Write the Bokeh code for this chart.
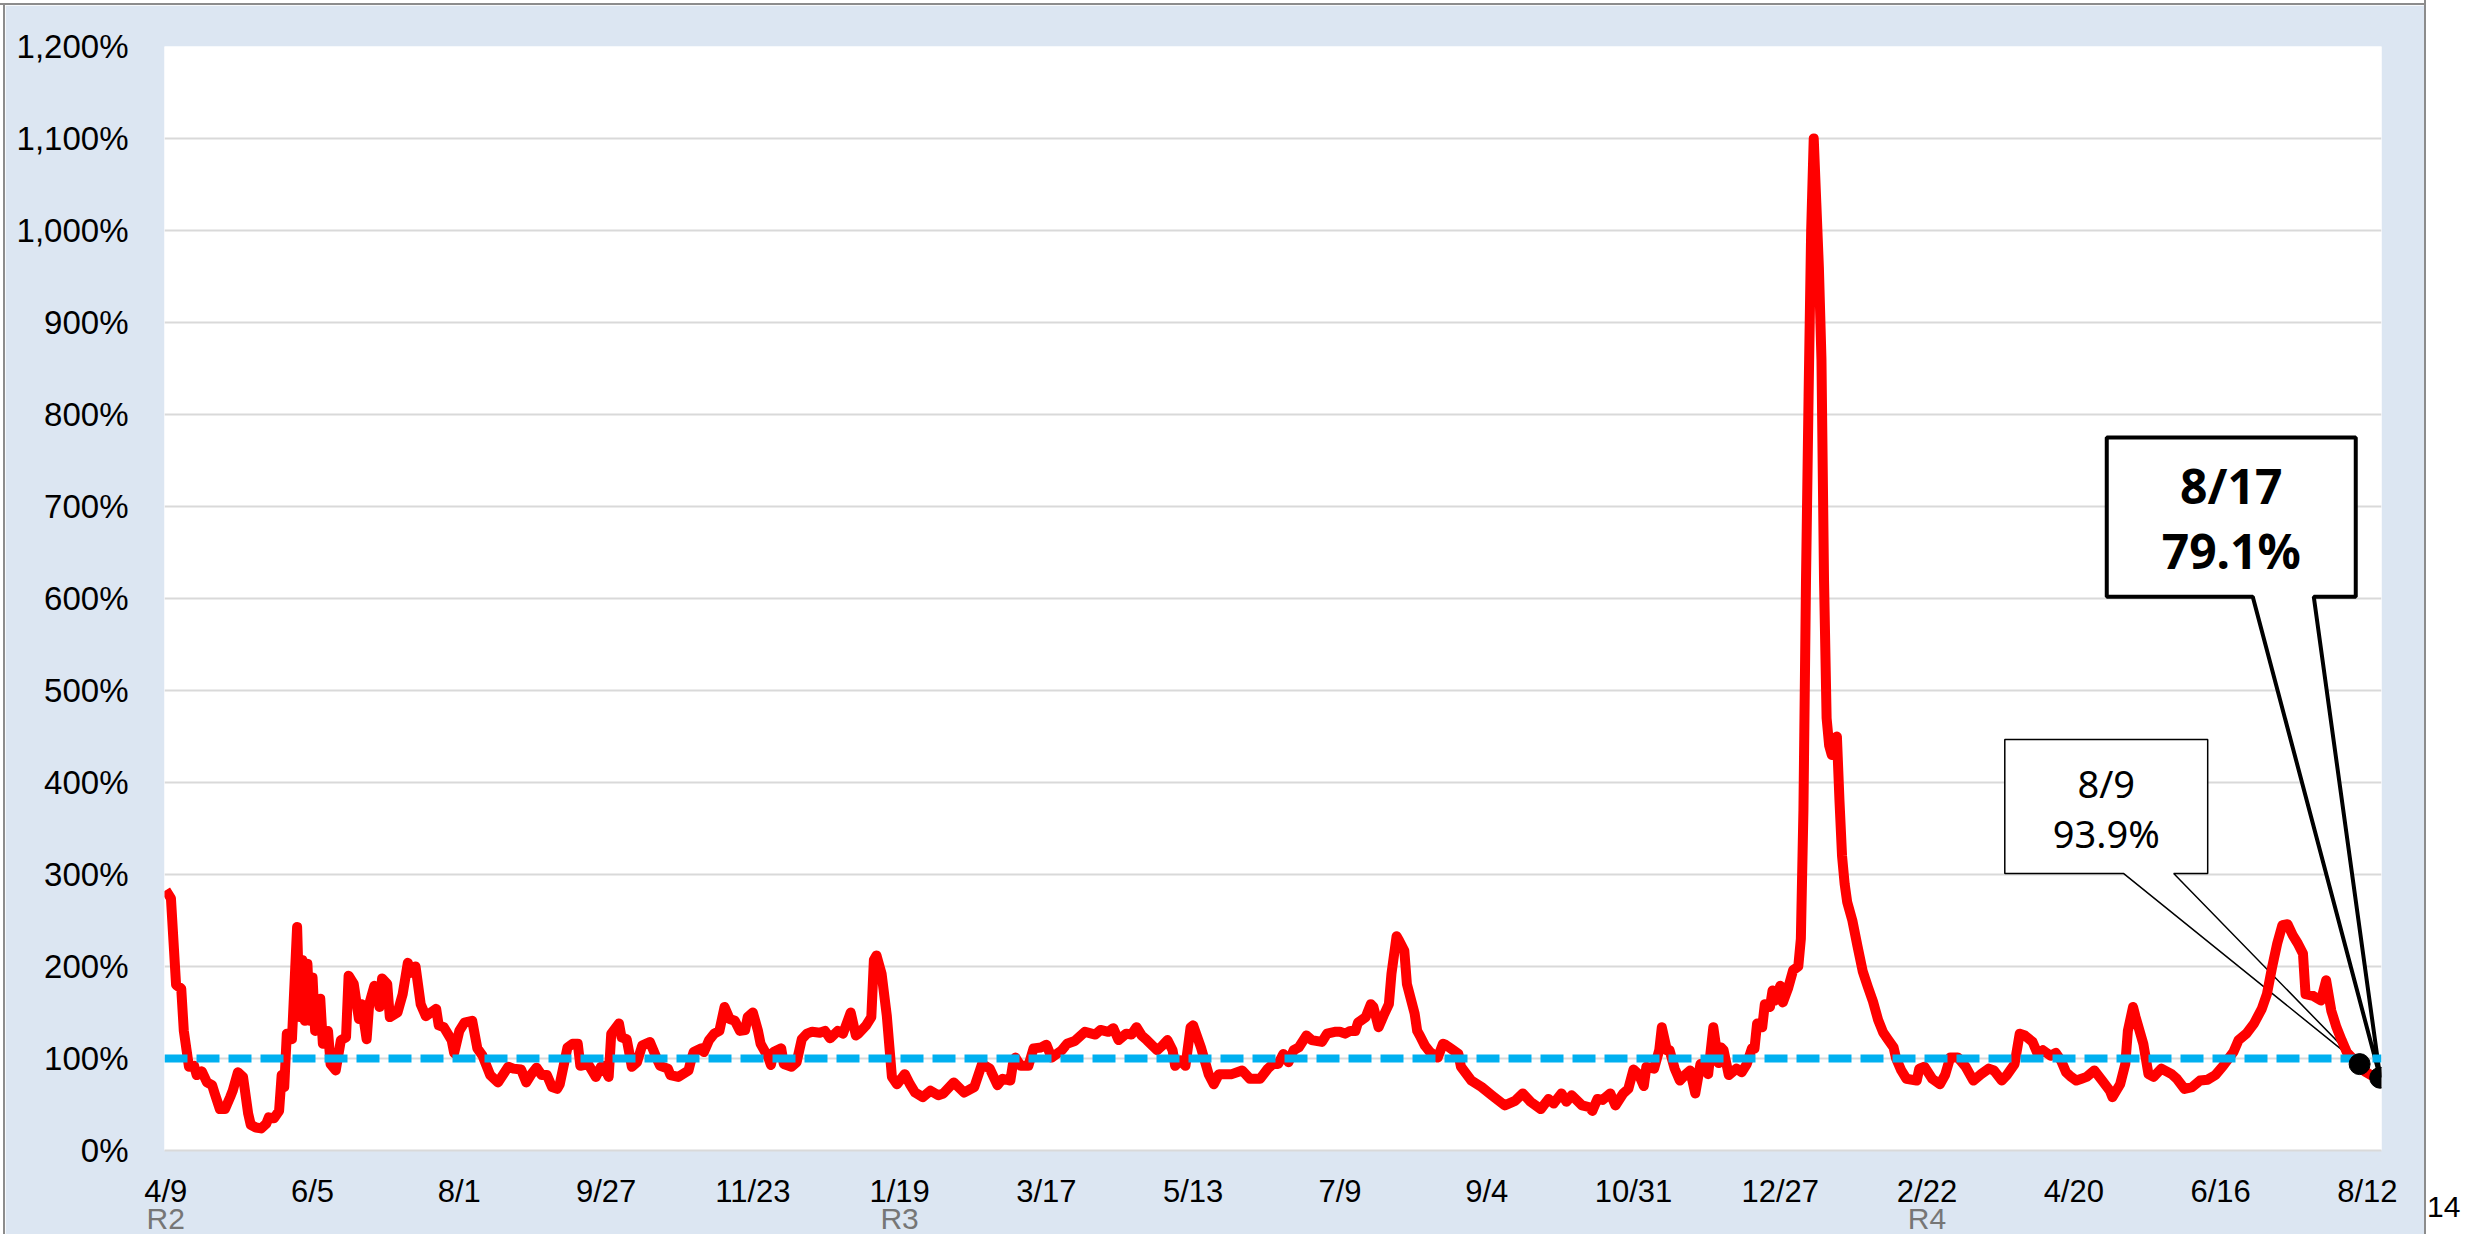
from datetime import datetime, timedelta

from bokeh.core.properties import value
from bokeh.embed import file_html
from bokeh.layouts import column, row
from bokeh.models import DatetimeAxis, Div, FixedTicker, Range1d
from bokeh.plotting import figure
from bokeh.resources import INLINE

# ---------------- data ----------------
START_DATE = datetime(2020, 4, 9)

day_offsets = [
    0, 2, 4, 6, 7, 9, 11, 12, 14, 16, 18, 19, 21, 23, 25, 26, 28, 30, 32, 33, 35, 37, 39, 40, 42, 44,
    45, 46, 47, 49, 51, 52, 53, 54, 55, 56, 57, 58, 60, 61, 63, 64, 66, 68, 70, 71, 73, 75, 76, 78,
    79, 81, 83, 84, 86, 87, 90, 92, 94, 95, 97, 99, 101, 105, 106, 108, 111, 112, 114, 116, 119,
    121, 123, 126, 129, 133, 135, 138, 140, 142, 144, 146, 148, 150, 152, 153, 156, 158, 160, 161,
    164, 167, 169, 170, 172, 173, 176, 177, 179, 181, 183, 185, 188, 191, 192, 195, 196, 199, 203,
    204, 205, 208, 209, 211, 213, 215, 217, 219, 221, 223, 225, 226, 228, 230, 231, 234, 235, 236,
    239, 240, 243, 245, 247, 249, 251, 254, 256, 258, 261, 263, 266, 268, 269, 272, 274, 275, 276,
    278, 280, 282, 284, 287, 289, 291, 294, 297, 300, 302, 306, 310, 314, 317, 320, 323, 325, 328,
    329, 330, 332, 335, 337, 340, 342, 344, 348, 350, 353, 357, 361, 363, 366, 368, 370, 373, 375,
    377, 379, 381, 385, 387, 389, 391, 392, 394, 396, 398, 399, 402, 405, 407, 409, 414, 418, 421,
    425, 428, 430, 432, 434, 436, 438, 440, 443, 445, 449, 451, 454, 456, 458, 460, 462, 463, 466,
    468, 469, 471, 473, 475, 476, 478, 479, 481, 482, 485, 486, 487, 489, 491, 494, 496, 497, 499,
    502, 503, 507, 511, 515, 520, 524, 527, 530, 534, 537, 539, 542, 544, 546, 550, 553, 554, 556,
    558, 561, 563, 566, 568, 570, 572, 574, 575, 578, 580, 581, 583, 584, 586, 588, 590, 592, 594,
    596, 599, 601, 603, 604, 605, 607, 610, 612, 614, 616, 617, 618, 620, 621, 623, 624, 625, 627,
    628, 630, 632, 634, 635, 636, 637, 638, 639, 640, 641, 642, 643, 644, 645, 646, 647, 648, 649,
    650, 651, 652, 653, 655, 657, 659, 661, 663, 665, 667, 669, 671, 672, 674, 676, 680, 681, 683,
    686, 689, 691, 693, 696, 699, 702, 705, 708, 710, 713, 715, 718, 720, 722, 725, 727, 729, 732,
    734, 736, 738, 740, 742, 744, 746, 749, 752, 755, 756, 759, 761, 762, 764, 765, 768, 770, 772,
    775, 779, 781, 784, 787, 790, 793, 796, 799, 803, 805, 808, 811, 814, 816, 818, 820, 822, 824,
    826, 828, 830, 831, 834, 837, 839, 841, 843, 845, 847, 850, 852, 854, 857, 860,
]

ratio_pct = [
    283, 274, 180, 176, 130, 91, 92, 82, 86, 74, 71, 62, 45, 45, 58, 65, 85, 80, 40, 28, 25, 24, 29, 36, 35, 43,
    82, 69, 127, 121, 243, 145, 207, 141, 203, 141, 188, 130, 165, 116, 130, 94, 87, 120, 123, 190, 181, 143, 159, 121,
    159, 179, 156, 187, 181, 145, 150, 170, 204, 193, 200, 159, 146, 154, 136, 134, 120, 106, 130, 139, 141,
    111, 103, 82, 74, 91, 89, 88, 74, 83, 90, 82, 82, 69, 67, 72, 112, 116, 116, 92,
    94, 80, 91, 92, 80, 127, 138, 123, 121, 91, 96, 114, 118, 98, 92, 89, 82, 80, 87,
    98, 107, 111, 107, 120, 127, 130, 156, 143, 141, 130, 131, 145, 150, 130, 116, 101, 93, 107,
    111, 94, 91, 96, 121, 127, 129, 128, 130, 122, 130, 127, 150, 125, 127, 136, 145, 207, 212,
    192, 147, 80, 72, 83, 72, 63, 58, 65, 60, 62, 74, 63, 69, 94, 89, 71, 78, 76,
    94, 101, 92, 92, 111, 112, 115, 101, 109, 116, 119, 129, 126, 131, 129, 133, 120, 127, 126,
    134, 125, 120, 109, 114, 120, 109, 92, 98, 92, 134, 136, 112, 83, 72, 83, 83, 87, 78,
    78, 89, 94, 94, 105, 96, 109, 112, 125, 120, 118, 127, 129, 129, 127, 130, 130, 139, 145,
    159, 156, 134, 147, 159, 192, 233, 228, 217, 181, 149, 130, 125, 114, 107, 101, 116, 115, 111,
    105, 91, 76, 69, 60, 49, 54, 62, 53, 45, 56, 51, 62, 53, 60, 49, 47, 43, 56,
    55, 62, 49, 62, 67, 88, 83, 70, 91, 89, 109, 134, 109, 109, 89, 76, 82, 87, 62,
    94, 83, 134, 95, 112, 109, 82, 89, 85, 94, 111, 111, 138, 134, 159, 156, 174, 163, 179,
    161, 176, 196, 200, 230, 370, 620, 820, 1000, 1100, 1030, 960, 860, 620, 470, 440, 430, 445, 450,
    380, 320, 290, 270, 250, 222, 195, 178, 162, 142, 128, 120, 112, 100, 87, 78, 76, 89, 91,
    78, 72, 82, 101, 101, 91, 76, 83, 89, 87, 76, 82, 94, 127, 125, 118, 105, 109, 103,
    106, 98, 85, 80, 76, 78, 80, 87, 76, 65, 58, 72, 94, 130, 156, 145, 116, 83, 80,
    89, 83, 78, 67, 69, 76, 77, 82, 92, 107, 120, 127, 138, 154, 170, 199, 225, 245, 246,
    234, 225, 214, 170, 168, 163, 185, 152, 134, 120, 107, 98, 93.9, 86, 81, 79.1,
]
assert len(day_offsets) == len(ratio_pct)

tick_dates = [
    "2020-04-09", "2020-06-05", "2020-08-01", "2020-09-27", "2020-11-23", "2021-01-19",
    "2021-03-17", "2021-05-13", "2021-07-09", "2021-09-04", "2021-10-31", "2021-12-27",
    "2022-02-22", "2022-04-20", "2022-06-16", "2022-08-12",
]
tick_labels = ["4/9", "6/5", "8/1", "9/27", "11/23", "1/19", "3/17", "5/13", "7/9", "9/4",
               "10/31", "12/27", "2/22", "4/20", "6/16", "8/12"]

era_dates = ["2020-04-09", "2021-01-19", "2022-02-22"]
era_labels = ["R2", "R3", "R4"]

y_ticks = [0, 100, 200, 300, 400, 500, 600, 700, 800, 900, 1000, 1100, 1200]
reference_level = 100          # 100% line
highlight_offsets = [852, 860]  # 8/9 and 8/17 call-outs
page_number = "14"

# ---------------- helpers ----------------
EPOCH = datetime(1970, 1, 1)


def to_ms(dt):
    return (dt - EPOCH).total_seconds() * 1000.0


dates = [START_DATE + timedelta(days=d) for d in day_offsets]
tick_ms = [to_ms(datetime.fromisoformat(s)) for s in tick_dates]
era_ms = [to_ms(datetime.fromisoformat(s)) for s in era_dates]

x_start = dates[0] - timedelta(hours=12)
x_end = dates[-1] + timedelta(hours=12)

# ---------------- figure ----------------
BG = "#dce6f2"
FRAME_GREY = "#8c8c8c"
p = figure(
    frame_width=2217, frame_height=1104,
    x_axis_type="datetime",
    x_range=Range1d(x_start, x_end),
    y_range=Range1d(0, 1200),
    output_backend="svg", toolbar_location=None,
    min_border_left=159, min_border_right=43, min_border_top=41, min_border_bottom=84,
    background_fill_color="white", border_fill_color=BG, outline_line_color=None,
)

# x axis (dates)
p.xaxis.ticker = FixedTicker(ticks=tick_ms)
p.xaxis.major_label_overrides = {t: lbl for t, lbl in zip(tick_ms, tick_labels)}
p.xaxis.major_label_text_font = "Liberation Sans"
p.xaxis.major_label_text_font_size = "31px"
p.xaxis.major_label_text_color = "black"
p.xaxis.major_label_standoff = 23
p.xaxis.axis_line_color = "#d9d9d9"
p.xaxis.axis_line_width = 2
p.xaxis.major_tick_line_color = None
p.xaxis.minor_tick_line_color = None
p.xaxis.major_tick_out = 0
p.xaxis.minor_tick_out = 0

# second row of x labels: era (R2/R3/R4)
era_axis = DatetimeAxis(
    ticker=FixedTicker(ticks=era_ms),
    major_label_overrides={t: lbl for t, lbl in zip(era_ms, era_labels)},
    major_label_text_font="Liberation Sans",
    major_label_text_font_size="30px",
    major_label_text_color="#767676",
    major_label_standoff=-10,
    axis_line_color=None,
    major_tick_line_color=None, minor_tick_line_color=None,
    major_tick_out=0, minor_tick_out=0, major_tick_in=0, minor_tick_in=0,
)
p.add_layout(era_axis, "below")

# y axis
p.yaxis.ticker = FixedTicker(ticks=y_ticks)
p.yaxis.major_label_overrides = {v: f"{v:,}%" for v in y_ticks}
p.yaxis.major_label_text_font = "Liberation Sans"
p.yaxis.major_label_text_font_size = "33px"
p.yaxis.major_label_text_color = "black"
p.yaxis.major_label_standoff = 36
p.yaxis.axis_line_color = None
p.yaxis.major_tick_line_color = None
p.yaxis.minor_tick_line_color = None
p.yaxis.major_tick_out = 0
p.yaxis.minor_tick_out = 0

p.xgrid.visible = False
p.ygrid.ticker = FixedTicker(ticks=y_ticks)
p.ygrid.grid_line_color = "#d9d9d9"
p.ygrid.grid_line_width = 2

# ---------------- call-out boxes (drawn under the series) ----------------
hl_idx = [day_offsets.index(o) for o in highlight_offsets]
hl_x = [dates[i] for i in hl_idx]
hl_y = [ratio_pct[i] for i in hl_idx]


def day(d):
    return START_DATE + timedelta(days=d)


# layout of the two call-outs: (left, right, top, bottom) and wedge base, in days / %
callouts = [
    dict(box=(714.2, 793.0, 446.7, 301.0), wedge=(760.4, 779.8), lw=1.5,
         lines=(400, 345), size="38px", style="normal"),
    dict(box=(753.8, 850.5, 775.0, 602.0), wedge=(810.5, 834.2), lw=4,
         lines=(723, 652), size="48px", style="bold"),
]

for k, c in enumerate(callouts):
    l, r, t, b = c["box"]
    w0, w1 = c["wedge"]
    tip_x, tip_y = hl_x[k], hl_y[k]
    xs = [day(l), day(r), day(r), day(w1), tip_x, day(w0), day(l)]
    ys = [t, t, b, b, tip_y, b, b]
    p.patch(xs, ys, fill_color="white", line_color="black", line_width=c["lw"])
    dt = hl_x[k]
    txt1 = f"{dt.month}/{dt.day}"
    txt2 = f"{hl_y[k]:.1f}%"
    cx = day((l + r) / 2)
    p.text(x=[cx, cx], y=list(c["lines"]), text=[txt1, txt2],
           text_font=value("Noto Sans"), text_font_size=c["size"],
           text_font_style=c["style"], text_color="black",
           text_align="center", text_baseline="middle")

# ---------------- series ----------------
p.line(dates, ratio_pct, line_color="#ff0000", line_width=10, line_join="round")
p.line([x_start, x_end], [reference_level, reference_level],
       line_color="#00b0f0", line_width=8, line_dash="23 9")
p.scatter(hl_x, hl_y, size=21, fill_color="black", line_color="black")

# ---------------- outer frame lines and page number ----------------
top_strip = Div(
    text="", width=2424, height=5, margin=0,
    styles={"background": f"linear-gradient(to bottom, #ffffff 0px, #ffffff 3px, {FRAME_GREY} 3px, {FRAME_GREY} 5px)"},
)
left_strip = Div(
    text="", width=5, height=1229, margin=0,
    styles={"background": f"linear-gradient(to right, #ffffff 0px, #ffffff 3px, {FRAME_GREY} 3px, {FRAME_GREY} 5px)"},
)
right_strip = Div(
    text=(f'<div style="margin-top:1189px; margin-left:3px; font-family:\'Liberation Sans\', Arial, sans-serif; '
          f'font-size:30px; line-height:36px; color:#000;">{page_number}</div>'),
    width=42, height=1234, margin=0,
    styles={"background": f"linear-gradient(to right, {FRAME_GREY} 0px, {FRAME_GREY} 2px, #ffffff 2px, #ffffff 42px)"},
)

layout = row(column(top_strip, row(left_strip, p, spacing=0), spacing=0), right_strip, spacing=0)
open("out.html", "w").write(file_html(layout, INLINE))
